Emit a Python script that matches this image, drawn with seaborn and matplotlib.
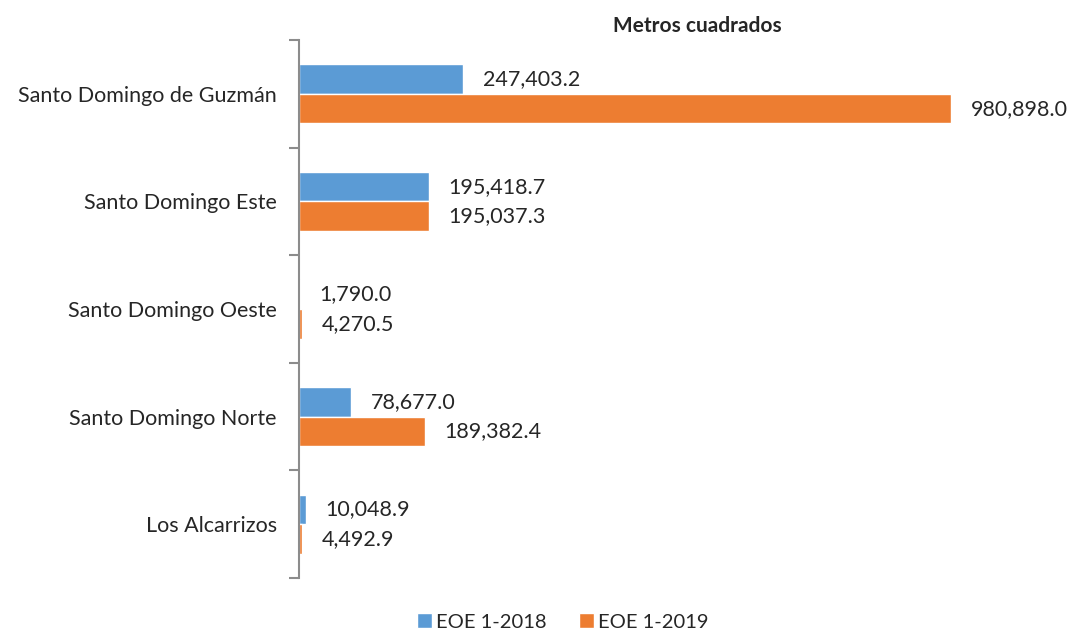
import matplotlib
matplotlib.use("Agg")
import matplotlib.pyplot as plt
import seaborn as sns
import pandas as pd
import numpy as np

categories = ["Santo Domingo de Guzmán", "Santo Domingo Este", "Santo Domingo Oeste",
              "Santo Domingo Norte", "Los Alcarrizos"]
series_names = ["EOE 1-2018", "EOE 1-2019"]
values_2018 = [247403.2, 195418.7, 1790.0, 78677.0, 10048.9]
values_2019 = [980898.0, 195037.3, 4270.5, 189382.4, 4492.9]
colors = ["#5B9BD5", "#ED7D31"]
title = "Metros cuadrados"

df = pd.DataFrame({
    "cat": categories * 2,
    "serie": [series_names[0]] * 5 + [series_names[1]] * 5,
    "val": values_2018 + values_2019,
})

sns.set_style("white")
plt.rcParams["font.family"] = ["Lato", "DejaVu Sans"]

fig = plt.figure(figsize=(10.69, 6.35), dpi=100)
ax = fig.add_axes([0.2797, 0.0898, 0.712, 0.847])

sns.barplot(data=df, y="cat", x="val", hue="serie", order=categories,
            hue_order=series_names, palette=colors, width=0.55, ax=ax,
            saturation=1, errorbar=None, orient="h")

ax.set_xlim(0, 1145000)
ax.set_ylim(4.5, -0.5)
ax.set_xlabel("")
ax.set_ylabel("")
ax.set_xticks([])
for s in ["top", "right", "bottom"]:
    ax.spines[s].set_visible(False)
ax.spines["left"].set_color("#8C8C8C")
ax.spines["left"].set_linewidth(1.5)

ax.set_yticks(range(len(categories)))
ax.set_yticklabels(categories, fontsize=15.5)
ax.tick_params(axis="y", which="major", length=0, pad=16)
ax.set_yticks(np.arange(-0.5, len(categories), 1), minor=True)
ax.tick_params(axis="y", which="minor", left=True, length=7, width=1.5,
               color="#8C8C8C", direction="out")

for cont in ax.containers:
    ax.bar_label(cont, labels=[f"{v:,.1f}" for v in cont.datavalues],
                 padding=14, fontsize=15.5)

ax.set_title(title, fontsize=15, fontweight="bold", x=0.523, y=1.0, pad=6)

leg = ax.legend(loc="upper center", bbox_to_anchor=(0.346, -0.032), ncol=2,
                frameon=False, fontsize=14.5, handlelength=0.75, handleheight=0.75,
                handletextpad=0.2, columnspacing=1.6)

fig.savefig("out.png", dpi=100)
